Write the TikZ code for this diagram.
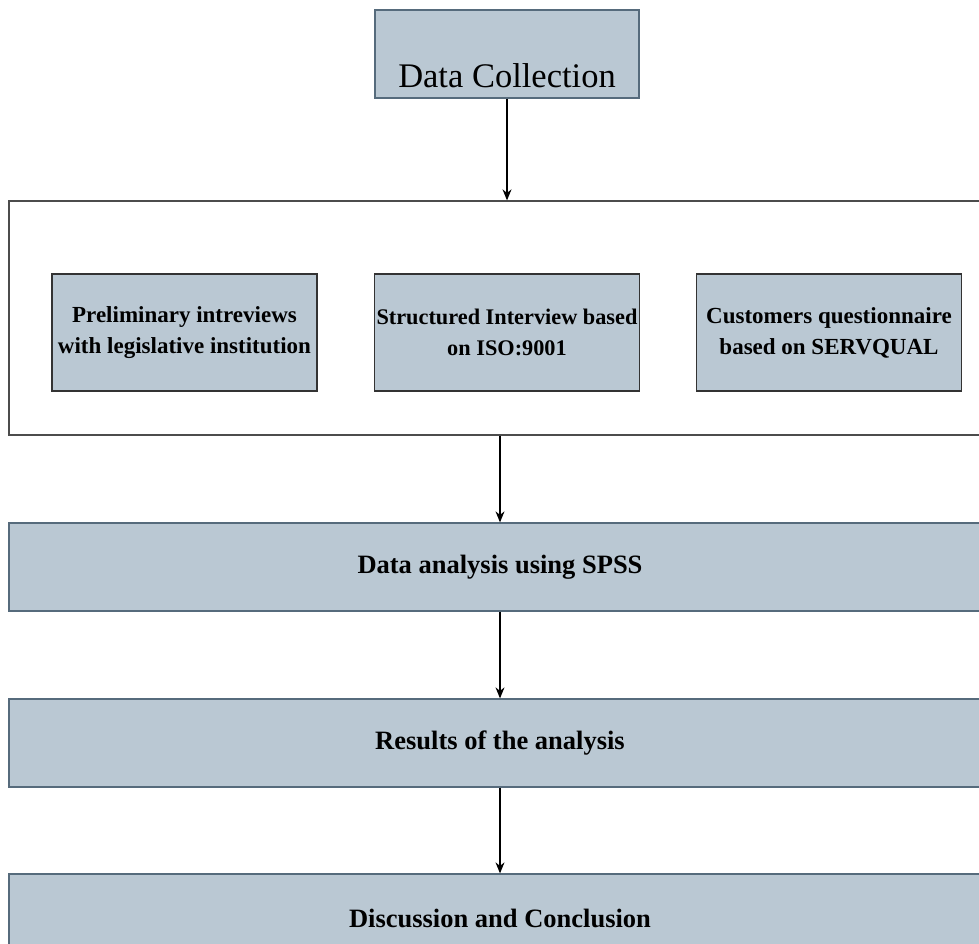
\documentclass[tikz,border=0pt]{standalone}
\usepackage{fontspec}
\setmainfont{Liberation Serif}
\usetikzlibrary{arrows.meta}
\usetikzlibrary{positioning}
\definecolor{boxfill}{HTML}{BAC8D3}
\definecolor{boxline}{HTML}{566B7C}
\tikzstyle{stage}=[rectangle,draw=boxline,fill=boxfill,line width=1.3pt,inner sep=0pt]
\tikzstyle{method}=[rectangle,draw=black!80,fill=boxfill,line width=1.3pt,inner sep=0pt,minimum width=265pt,minimum height=117pt,align=center,font=\fontsize{23}{31}\selectfont\bfseries]
\tikzstyle{wide}=[stage,minimum width=982pt,minimum height=88pt,font=\fontsize{26.5}{30}\selectfont\bfseries]
\tikzstyle{edge} = [draw,line width=1.3pt,-{Stealth[length=11pt,width=9pt]}]

\begin{document}
\begin{tikzpicture}[x=1pt,y=-1pt]
    \useasboundingbox[fill=white] (0,0) rectangle (979,944);

    \node[stage,minimum width=264pt,minimum height=88pt,text height=68pt,font=\fontsize{34.5}{40}\selectfont] (collect) at (507,54) {Data Collection};

    \node[rectangle,draw=black!70,fill=white,line width=1.3pt,minimum width=982pt,minimum height=234pt] (methods) at (500,318) {};

    \foreach \pos/\name/\label in {{(184.5,332.5)/prelim/{Preliminary intreviews\\with legislative institution}}, {(829,332.5)/quest/{Customers questionnaire\\based on SERVQUAL}}}
        \node[method] (\name) at \pos {\label};
    \node[method,font=\fontsize{22.3}{31}\selectfont\bfseries] (struct) at (507,332.5) {Structured Interview based\\on ISO:9001};

    \foreach \pos/\name/\label in {{(500,567)/analysis/Data analysis using SPSS}, {(500,743)/results/Results of the analysis}, {(500,918)/discuss/Discussion and Conclusion}}
        \node[wide] (\name) at \pos {\label};

    \path[edge] (collect) -- (collect |- methods.north);
    \foreach \source/ \dest in {methods/analysis, analysis/results, results/discuss}
        \path[edge] (\source) -- (\dest);
\end{tikzpicture}
\end{document}
